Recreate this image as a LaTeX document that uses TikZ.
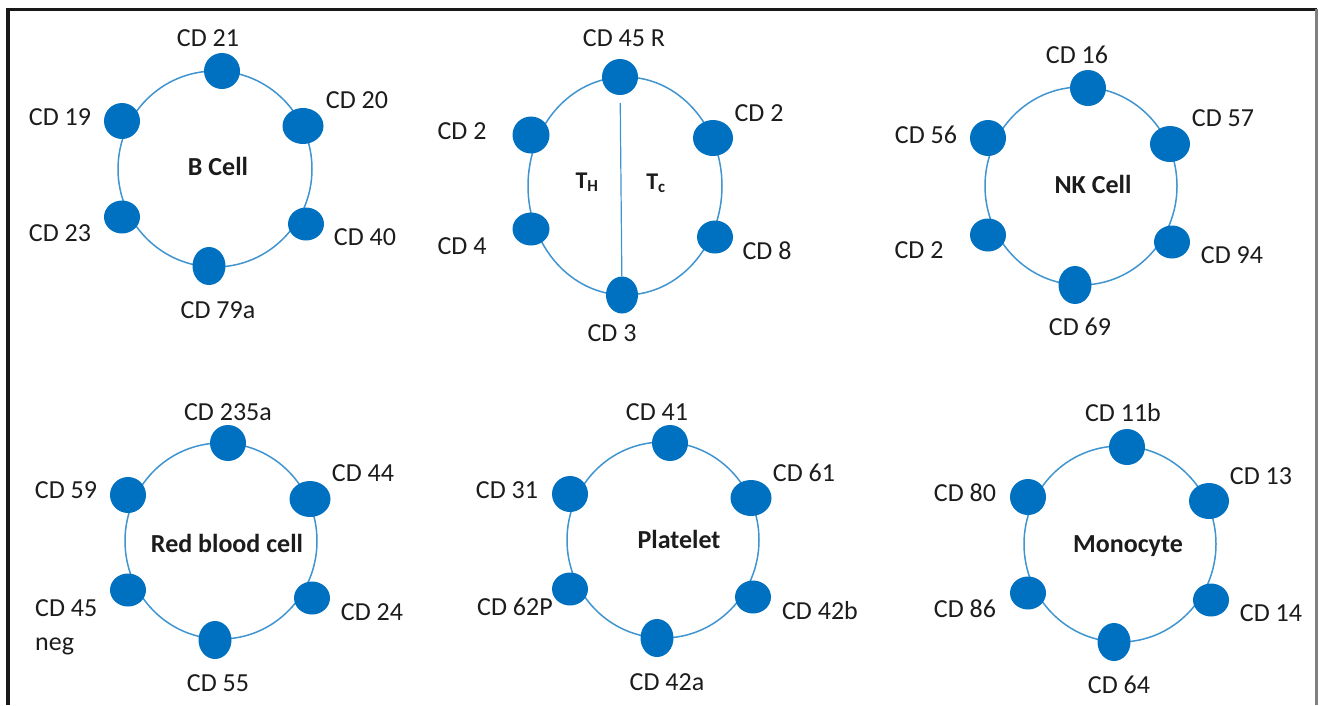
\documentclass[tikz,border=0pt]{standalone}
\usepackage{fontspec}
\setmainfont{Carlito}
\usepackage{tikz}
\usetikzlibrary{shapes.geometric}
\definecolor{cdblue}{RGB}{0,112,192}
\definecolor{inkgrey}{RGB}{28,28,28}

\begin{document}
\begin{tikzpicture}[x=1pt,y=-1pt,
	marker/.style={ellipse, fill=cdblue, inner sep=0pt, minimum width=36, minimum height=36},
	ring/.style={draw=cdblue!75, line width=1.5pt},
	cdlabel/.style={text=inkgrey, font=\fontsize{26}{34}\selectfont, inner sep=0pt},
	cellname/.style={text=inkgrey, font=\fontsize{26}{30}\selectfont\bfseries, inner sep=0pt, anchor=base}]
	\useasboundingbox (0,0) rectangle (1319,705);
	\draw [black!90, line width=3.5pt] (8,705) -- (8,9.5) -- (1317,9.5);
	\draw [gray, line width=2.5pt] (1316.5,9) -- (1316.5,705);

	\begin{scope}[shift={(215,169)}]
		\draw [ring] (0,0) ellipse (97pt and 98pt);
		\node (b21) at (7,-98) [marker] {};
		\node (b20) at (88,-43) [marker, minimum width=41] {};
		\node (b40) at (91,55) [marker, minimum height=33] {};
		\node (b79) at (-6,97) [marker, minimum width=33, minimum height=38] {};
		\node (b23) at (-93,48) [marker, minimum height=33] {};
		\node (b19) at (-93,-48) [marker] {};
		\node (lb21) at (-7,-131) [cdlabel] {CD 21};
		\node (lb20) at (142,-69) [cdlabel] {CD 20};
		\node (lb40) at (150,68) [cdlabel] {CD 40};
		\node (lb79) at (3,141) [cdlabel] {CD 79a};
		\node (lb23) at (-155,64) [cdlabel] {CD 23};
		\node (lb19) at (-155,-52) [cdlabel] {CD 19};
		\node (bname) at (3,6) [cellname] {B Cell};
	\end{scope}

	\begin{scope}[shift={(625,186)}]
		\draw [ring] (0,0) ellipse (97pt and 109pt);
		\node (t45) at (-5,-109) [marker] {};
		\node (t2r) at (88,-48) [marker, minimum width=40] {};
		\node (t8) at (90,51) [marker, minimum height=33] {};
		\node (t3) at (-3,109) [marker, minimum width=32, minimum height=37] {};
		\node (t4) at (-94,43) [marker, minimum width=37, minimum height=33] {};
		\node (t2l) at (-94,-51) [marker, minimum width=37, minimum height=37] {};
		\draw [cdblue!75, line width=1.2pt, shorten <=8pt] (t45) -- (t3);
		\node (lt45) at (-1,-148) [cdlabel] {CD 45 R};
		\node (lt2r) at (134,-73) [cdlabel] {CD 2};
		\node (lt8) at (142,65) [cdlabel] {CD 8};
		\node (lt3) at (-13,147) [cdlabel] {CD 3};
		\node (lt4) at (-163,60) [cdlabel] {CD 4};
		\node (lt2l) at (-163,-55) [cdlabel] {CD 2};
		\node (th) at (-38,2) [cellname, font=\fontsize{24}{28}\selectfont\bfseries] {T\textsubscript{H}};
		\node (tc) at (31,3) [cellname, font=\fontsize{24}{28}\selectfont\bfseries] {T\textsubscript{c}};
	\end{scope}

	\begin{scope}[shift={(1081,186)}]
		\draw [ring] (0,0) ellipse (96pt and 99pt);
		\node (n16) at (7,-98) [marker] {};
		\node (n57) at (89,-42) [marker, minimum width=40] {};
		\node (n94) at (91,56) [marker, minimum height=33] {};
		\node (n69) at (-6,99) [marker, minimum width=33, minimum height=38] {};
		\node (n2) at (-93,49) [marker, minimum height=33] {};
		\node (n56) at (-93,-48) [marker] {};
		\node (ln16) at (-4,-131) [cdlabel] {CD 16};
		\node (ln57) at (142,-68) [cdlabel] {CD 57};
		\node (ln94) at (151,69) [cdlabel] {CD 94};
		\node (ln69) at (-1,141) [cdlabel] {CD 69};
		\node (ln2) at (-162,64) [cdlabel] {CD 2};
		\node (ln56) at (-155,-51) [cdlabel] {CD 56};
		\node (nname) at (12,7.5) [cellname] {NK Cell};
	\end{scope}

	\begin{scope}[shift={(221,541)}]
		\draw [ring] (0,0) ellipse (96pt and 98pt);
		\node (r235) at (7,-98) [marker] {};
		\node (r44) at (89,-42) [marker, minimum width=41] {};
		\node (r24) at (91,57) [marker, minimum height=33] {};
		\node (r55) at (-6,99) [marker, minimum width=33, minimum height=38] {};
		\node (r45) at (-93,49) [marker, minimum height=33] {};
		\node (r59) at (-93,-46) [marker] {};
		\node (lr235) at (7,-129) [cdlabel] {CD 235a};
		\node (lr44) at (142,-68) [cdlabel] {CD 44};
		\node (lr24) at (151,71) [cdlabel] {CD 24};
		\node (lr55) at (-3,142) [cdlabel] {CD 55};
		\node (lr45) at (-186,58) [cdlabel, anchor=north west, align=left] {CD 45\\neg};
		\node (lr59) at (-155,-51) [cdlabel] {CD 59};
		\node (rname) at (6,11.5) [cellname] {Red blood cell};
	\end{scope}

	\begin{scope}[shift={(663,540)}]
		\draw [ring] (0,0) ellipse (96pt and 98pt);
		\node (p41) at (7,-97) [marker] {};
		\node (p61) at (88,-42) [marker, minimum width=41] {};
		\node (p42b) at (90,57) [marker, minimum height=33] {};
		\node (p42a) at (-6,98) [marker, minimum width=33, minimum height=38] {};
		\node (p62) at (-93,49) [marker, minimum height=33] {};
		\node (p31) at (-93,-46) [marker] {};
		\node (lp41) at (-6,-128) [cdlabel] {CD 41};
		\node (lp61) at (141,-67) [cdlabel] {CD 61};
		\node (lp42b) at (157,71) [cdlabel] {CD 42b};
		\node (lp42a) at (4,142) [cdlabel] {CD 42a};
		\node (lp62) at (-148,67) [cdlabel] {CD 62P};
		\node (lp31) at (-156,-50) [cdlabel] {CD 31};
		\node (pname) at (16,8.5) [cellname] {Platelet};
	\end{scope}

	\begin{scope}[shift={(1120,544)}]
		\draw [ring] (0,0) ellipse (96pt and 98pt);
		\node (m11) at (7,-97) [marker] {};
		\node (m13) at (89,-43) [marker, minimum width=40] {};
		\node (m14) at (91,56) [marker, minimum height=33] {};
		\node (m64) at (-6,98) [marker, minimum width=33, minimum height=38] {};
		\node (m86) at (-92,49) [marker, minimum height=33] {};
		\node (m80) at (-92,-47) [marker] {};
		\node (lm11) at (3,-131) [cdlabel] {CD 11b};
		\node (lm13) at (141,-68) [cdlabel] {CD 13};
		\node (lm14) at (151,69) [cdlabel] {CD 14};
		\node (lm64) at (-1,141) [cdlabel] {CD 64};
		\node (lm86) at (-155,65) [cdlabel] {CD 86};
		\node (lm80) at (-155,-51) [cdlabel] {CD 80};
		\node (mname) at (8,8) [cellname] {Monocyte};
	\end{scope}
\end{tikzpicture}
\end{document}
